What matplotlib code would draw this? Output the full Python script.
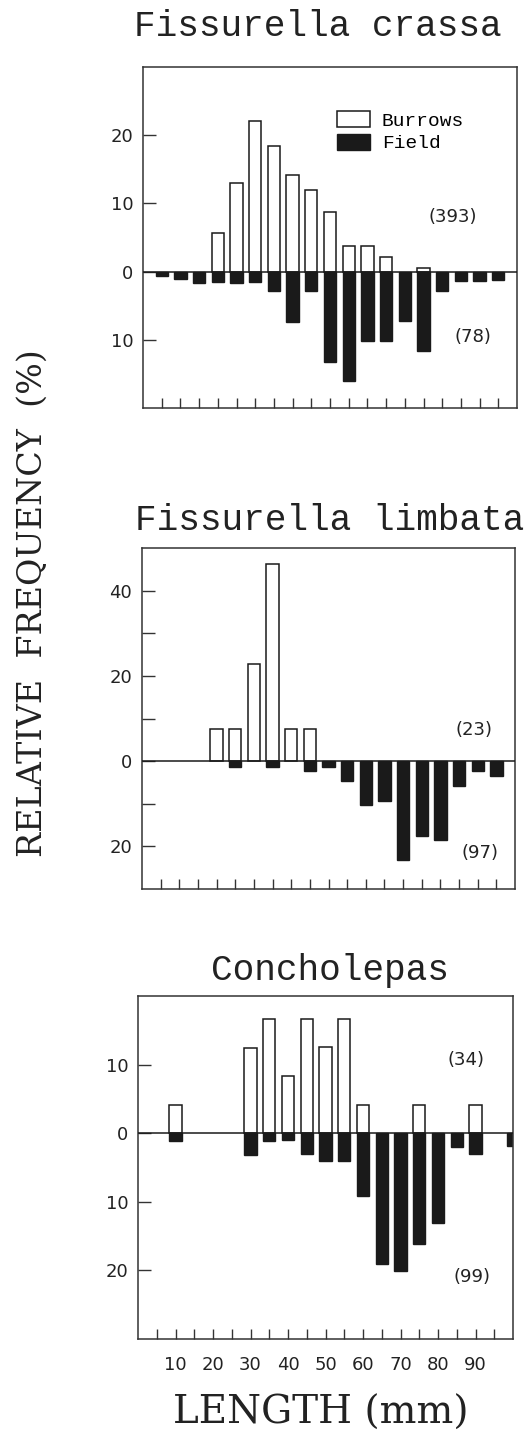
import matplotlib
matplotlib.use("Agg")
import matplotlib.pyplot as plt
from matplotlib.patches import Patch

# shell length classes (mm)
lengths = [5, 10, 15, 20, 25, 30, 35, 40, 45, 50, 55, 60, 65, 70, 75, 80, 85, 90, 95]
lengths_conch = lengths + [100]

# Fissurella crassa, relative frequency (%)
crassa_burrows = [0, 0, 0, 5.6, 13.0, 22.1, 18.4, 14.1, 12.0, 8.7, 3.7, 3.7, 2.2, 0, 0.6, 0, 0, 0, 0]
crassa_field = [0.6, 1.1, 1.6, 1.5, 1.6, 1.5, 2.9, 7.4, 2.9, 13.2, 16.1, 10.2, 10.2, 7.3, 11.6, 2.8, 1.4, 1.4, 1.3]

# Fissurella limbata
limbata_burrows = [0, 0, 0, 7.5, 7.5, 22.9, 46.2, 7.5, 7.5, 0, 0, 0, 0, 0, 0, 0, 0, 0, 0]
limbata_field = [0, 0, 0, 0, 1.4, 0, 1.4, 0, 2.4, 1.4, 4.7, 10.4, 9.4, 23.2, 17.5, 18.4, 5.9, 2.4, 3.5]

# Concholepas
conch_burrows = [0, 4.1, 0, 0, 0, 12.4, 16.7, 8.3, 16.7, 12.5, 16.7, 4.1, 0, 0, 4.1, 0, 0, 4.1, 0, 0]
conch_field = [0, 1.1, 0, 0, 0, 3.2, 1.1, 1.0, 3.0, 4.1, 4.0, 9.1, 19.1, 20.1, 16.1, 13.1, 2.0, 3.0, 0, 1.8]

panels = [
    dict(title="Fissurella crassa", x=lengths, burrows=crassa_burrows, field=crassa_field,
         n_burrows="(393)", n_field="(78)", ylim=(-20, 30),
         yticks=[20, 10, 0, -10], yticklabels=["20", "10", "0", "10"],
         rect=[143, 67, 517, 408], title_xy=(318, 36),
         nb_xy=(453, 217), nf_xy=(473, 337), legend=True),
    dict(title="Fissurella limbata", x=lengths, burrows=limbata_burrows, field=limbata_field,
         n_burrows="(23)", n_field="(97)", ylim=(-30, 50),
         yticks=[40, 30, 20, 10, 0, -10, -20], yticklabels=["40", "", "20", "", "0", "", "20"],
         rect=[142, 548, 515, 889], title_xy=(330, 530),
         nb_xy=(474, 730), nf_xy=(480, 853), legend=False),
    dict(title="Concholepas", x=lengths_conch, burrows=conch_burrows, field=conch_field,
         n_burrows="(34)", n_field="(99)", ylim=(-30, 20),
         yticks=[10, 0, -10, -20], yticklabels=["10", "0", "10", "20"],
         rect=[138, 996, 513, 1339], title_xy=(330, 980),
         nb_xy=(466, 1060), nf_xy=(472, 1277), legend=False),
]

W, H = 530, 1436
fig = plt.figure(figsize=(W / 100, H / 100), dpi=100)
plt.rcParams["font.family"] = "DejaVu Sans"

ink = "#1a1a1a"
txt = "#222222"
mono = "Liberation Mono"

for i, p in enumerate(panels):
    l, t, r, b = p["rect"]
    ax = fig.add_axes([l / W, 1 - b / H, (r - l) / W, (b - t) / H])

    # skip empty classes so no stray outlines sit on the zero line
    xb = [x for x, v in zip(p["x"], p["burrows"]) if v > 0]
    vb = [v for v in p["burrows"] if v > 0]
    xf = [x for x, v in zip(p["x"], p["field"]) if v > 0]
    vf = [-v for v in p["field"] if v > 0]
    ax.bar(xb, vb, width=3.3, facecolor="white", edgecolor=ink, linewidth=1.1, zorder=2)
    ax.bar(xf, vf, width=3.3, facecolor=ink, edgecolor=ink, linewidth=1.0, zorder=2)
    ax.axhline(0, color=ink, linewidth=1.1, zorder=3)

    ax.set_xlim(0, 100)
    ax.set_ylim(*p["ylim"])
    ax.set_yticks(p["yticks"])
    ax.set_yticklabels(p["yticklabels"])
    ax.set_xticks(lengths)
    if i == 2:
        ax.set_xticklabels([str(v) if v % 10 == 0 else "" for v in lengths])
    else:
        ax.set_xticklabels([])

    ax.tick_params(axis="y", direction="in", length=9, width=1.0, color="#333333",
                   labelsize=13, pad=7, labelcolor=txt)
    ax.tick_params(axis="x", direction="in", length=7, width=1.0, color="#333333",
                   labelsize=13, pad=12, labelcolor=txt)
    for s in ax.spines.values():
        s.set_linewidth(1.1)
        s.set_color("#333333")

    ax.text((p["nb_xy"][0] - l) / (r - l), (b - p["nb_xy"][1]) / (b - t), p["n_burrows"],
            transform=ax.transAxes, ha="center", va="center", fontsize=13, color=txt)
    ax.text((p["nf_xy"][0] - l) / (r - l), (b - p["nf_xy"][1]) / (b - t), p["n_field"],
            transform=ax.transAxes, ha="center", va="center", fontsize=13, color=txt)

    fig.text(p["title_xy"][0] / W, 1 - p["title_xy"][1] / H, p["title"],
             ha="center", va="baseline", fontsize=26, family=mono, color=txt)

    if p["legend"]:
        handles = [Patch(facecolor="white", edgecolor=ink, linewidth=1.1, label="Burrows"),
                   Patch(facecolor=ink, edgecolor=ink, label="Field")]
        ax.legend(handles=handles, loc="upper left",
                  bbox_to_anchor=((337 - l) / (r - l), (b - 111) / (b - t)),
                  frameon=False, borderpad=0, borderaxespad=0,
                  handlelength=1.7, handleheight=0.9, handletextpad=0.6,
                  labelspacing=0.2, prop={"family": mono, "size": 14})

fig.text(33 / W, 1 - 603 / H, "RELATIVE  FREQUENCY  (%)", rotation=90,
         ha="center", va="center", fontsize=24, family="DejaVu Serif", color=txt)
fig.text(321 / W, 1 - 1413 / H, "LENGTH (mm)", ha="center", va="center",
         fontsize=28, family="DejaVu Serif", color=txt)

fig.savefig("out.png", dpi=100)
